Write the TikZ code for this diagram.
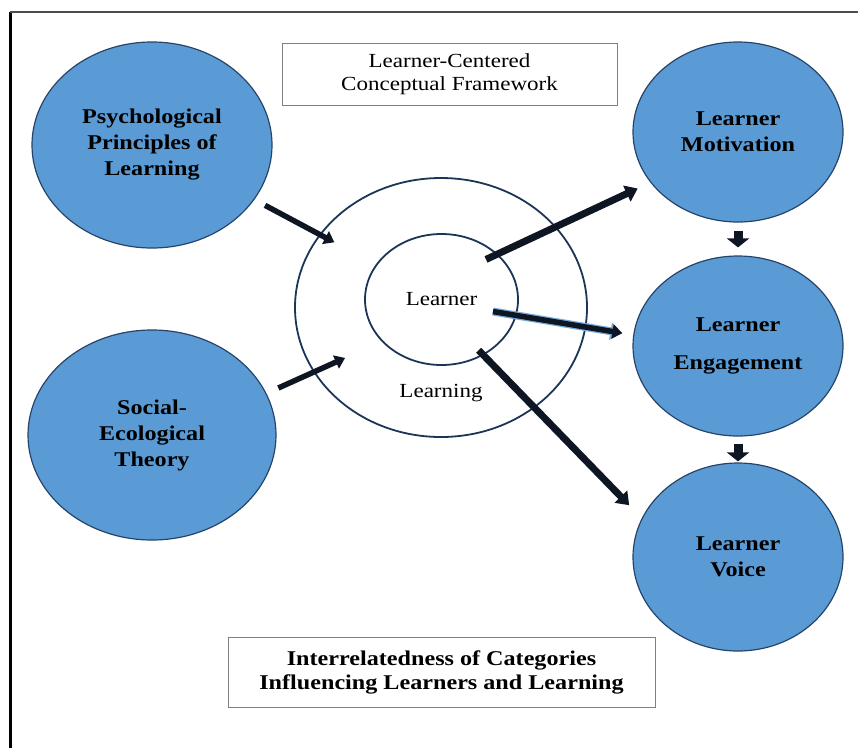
\documentclass[tikz,border=0pt]{standalone}
\usepackage{fontspec}
\setmainfont{Liberation Serif}[FakeStretch=1.15]
\usepackage{tikz}
\usetikzlibrary{arrows.meta,positioning,shapes.geometric}

\definecolor{bubble}{RGB}{91,155,213}
\definecolor{bubbleline}{RGB}{38,68,105}
\definecolor{ringline}{RGB}{28,52,86}
\definecolor{arrowdark}{RGB}{14,22,36}
\definecolor{glow}{RGB}{120,170,220}
\definecolor{boxline}{RGB}{128,128,128}

\tikzstyle{bubblestyle}=[ellipse,draw=bubbleline,line width=1.2pt,fill=bubble,align=center,inner sep=0pt,font=\bfseries\fontsize{21}{26}\selectfont]
\tikzstyle{ringstyle}=[ellipse,draw=ringline,line width=1.8pt,inner sep=0pt,font=\fontsize{20}{24}\selectfont]
\tikzstyle{boxstyle}=[rectangle,draw=boxline,line width=1pt,align=center,inner sep=0pt]

\begin{document}
\begin{tikzpicture}[x=1pt,y=-1pt,node distance=2.5cm,on grid]
	\tikzstyle{feed}=[arrowdark,line width=5.5pt,-{Triangle[width=14pt,length=10pt]}]
	\tikzstyle{outarrow}=[arrowdark,line width=7pt,-{Triangle[width=17pt,length=12pt]}]
	\tikzstyle{stepdown}=[arrowdark,line width=9pt,-{Triangle[width=22pt,length=9pt]}]

	\useasboundingbox (0,0) rectangle (858,748);
	\draw[line width=3pt] (10,748) -- (10,12);
	\draw[line width=2.5pt,black!70] (10,12) -- (858,12);

	\node[boxstyle,minimum width=335pt,minimum height=62pt,font=\fontsize{20}{23}\selectfont]
		(title) at (449.5,74) {Learner-Centered\\Conceptual Framework};
	\node[boxstyle,minimum width=427pt,minimum height=70pt,font=\bfseries\fontsize{21}{24}\selectfont]
		(caption) at (441.5,672) {Interrelatedness of Categories\\Influencing Learners and Learning};

	\node[bubblestyle,minimum width=240pt,minimum height=206pt] (psy) at (152,145) {Psychological\\Principles of\\Learning};
	\node[bubblestyle,minimum width=248pt,minimum height=210pt] (soc) [below=290pt of psy] {Social-\\Ecological\\Theory};
	\node[bubblestyle,minimum width=210pt,minimum height=180pt] (mot) at (738,132) {Learner\\Motivation};
	\node[bubblestyle,minimum width=210pt,minimum height=180pt] (eng) [below=214pt of mot] {Learner\\[12pt]Engagement};
	\node[bubblestyle,minimum width=210pt,minimum height=188pt] (voi) [below=211pt of eng] {Learner\\Voice};

	\node[ringstyle,minimum width=292pt,minimum height=259pt] (outer) at (441,307.5) {};
	\node[ringstyle,minimum width=153pt,minimum height=131pt] (inner) at (441.5,299.5) {Learner};
	\node[font=\fontsize{20}{24}\selectfont] (learning) at (441,393) {Learning};

	\draw[feed,shorten <=12pt,shorten >=47pt] (psy) -- (inner);
	\draw[feed,shorten <=13pt,shorten >=40pt] (soc.20) -- (inner.215);
	\draw[outarrow,shorten <=-13pt,shorten >=14pt] (inner.39) -- (mot.210);
	\draw[feed,preaction={draw=glow,line width=8pt,-{Triangle[width=17pt,length=12pt]}},shorten <=-24pt,shorten >=11pt] (inner.-12) -- (eng.174);
	\draw[outarrow,shorten <=-7pt,shorten >=18pt] (inner.-53) -- (voi.158);
	\draw[stepdown,shorten <=8pt,shorten >=8pt] (mot) -- (eng);
	\draw[stepdown,shorten <=7pt,shorten >=1pt] (eng) -- (voi);
\end{tikzpicture}
\end{document}
